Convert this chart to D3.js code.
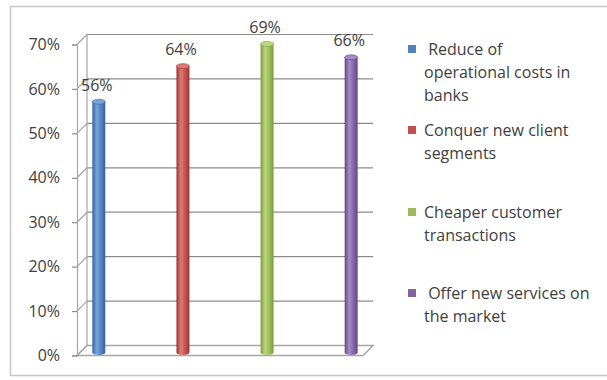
<!DOCTYPE html>
<html>
<head>
<meta charset="utf-8">
<script src="https://cdn.jsdelivr.net/npm/d3@7"></script>
<style>
  body { margin: 0; background: #fff; }
  text { font-family: "Open Sans", "Noto Sans", sans-serif; fill: #404040; }
</style>
</head>
<body>
<div id="chart"></div>
<script>
/* chart data */
var categories = ["Reduce of operational costs in banks", "Conquer new client segments",
                  "Cheaper customer transactions", "Offer new services on the market"];
var values = [0.56, 0.64, 0.69, 0.66];
var valueLabels = ["56%", "64%", "69%", "66%"];
var tickValues = [0, 0.1, 0.2, 0.3, 0.4, 0.5, 0.6, 0.7];
var legendLines = [[" Reduce of", "operational costs in", "banks"],
                   ["Conquer new client", "segments"],
                   ["Cheaper customer", "transactions"],
                   [" Offer new services on", "the market"]];
var colors = ["#4f81bd", "#c0504d", "#9bbb59", "#8064a2"];
var darks = ["#36649e", "#9c3633", "#7c9a3c", "#604887"];
var lights = ["#7aa5dc", "#e07a77", "#bcd880", "#a58bc6"];

var W = 607, H = 380;
var depth = 5; // half depth offset of the 3d box

var svg = d3.select('#chart').append('svg')
    .attr('width', W).attr('height', H);

// outer chart frame
svg.append('rect')
    .attr('x', 10.5).attr('y', 6.5)
    .attr('width', 620).attr('height', 369)
    .attr('fill', 'none')
    .attr('stroke', '#c8c8c8')
    .attr('stroke-width', 1.5);

// scales at the middle depth of the box
var y = d3.scaleLinear().domain([0, 0.7]).range([350.5, 39.5]);
var x = d3.scalePoint().domain(d3.range(categories.length))
    .range([82, 368]).padding(0.2);
var xl = 82, xr = 368;

var defs = svg.append('defs');
colors.forEach(function(c, i){
    var g = defs.append('linearGradient').attr('id', 'cyl' + i)
        .attr('x1', '0%').attr('x2', '100%').attr('y1', '0%').attr('y2', '0%');
    g.append('stop').attr('offset', '0%').attr('stop-color', darks[i]);
    g.append('stop').attr('offset', '35%').attr('stop-color', lights[i]);
    g.append('stop').attr('offset', '70%').attr('stop-color', c);
    g.append('stop').attr('offset', '100%').attr('stop-color', darks[i]);
});

// floor
svg.append('path')
    .attr('d', 'M' + (xl - depth) + ',' + (y(0) + depth) +
               'L' + (xr - depth) + ',' + (y(0) + depth) +
               'L' + (xr + depth) + ',' + (y(0) - depth) +
               'L' + (xl + depth) + ',' + (y(0) - depth) + 'Z')
    .attr('fill', '#fff')
    .attr('stroke', '#a6a6a6')
    .attr('stroke-width', 1.5);

// back wall grid lines
svg.selectAll('line.grid')
    .data(tickValues.filter(function(d){ return d > 0; }))
    .enter().append('line')
    .attr('class', 'grid')
    .attr('x1', xl + depth).attr('x2', xr + depth)
    .attr('y1', function(d){ return y(d) - depth; })
    .attr('y2', function(d){ return y(d) - depth; })
    .attr('stroke', '#8c8c8c')
    .attr('stroke-width', 1.2);

// back wall left edge
svg.append('line')
    .attr('x1', xl + depth).attr('x2', xl + depth)
    .attr('y1', y(0.7) - depth).attr('y2', y(0) - depth)
    .attr('stroke', '#a6a6a6').attr('stroke-width', 1.2);

// side wall diagonals at each tick
svg.selectAll('line.diag')
    .data(tickValues)
    .enter().append('line')
    .attr('class', 'diag')
    .attr('x1', xl - depth).attr('x2', xl + depth)
    .attr('y1', function(d){ return y(d) + depth; })
    .attr('y2', function(d){ return y(d) - depth; })
    .attr('stroke', '#a6a6a6').attr('stroke-width', 1.2);

// front value axis
var axis = d3.axisLeft(y.copy().range([y(0) + depth, y(0.7) + depth]))
    .tickValues(tickValues)
    .tickFormat(d3.format('.0%'))
    .tickSize(5).tickPadding(12);
var ax = svg.append('g')
    .attr('transform', 'translate(' + (xl - depth) + ',0)')
    .call(axis);
ax.select('.domain').attr('stroke', '#a6a6a6').attr('stroke-width', 1.2);
ax.selectAll('.tick line').attr('stroke', '#8c8c8c').attr('stroke-width', 1.2);
ax.selectAll('.tick text')
    .style('font-size', '16px')
    .attr('fill', '#404040');

// cylinders
var bw = 13, cap = 2.5;
var bars = svg.selectAll('g.bar')
    .data(values)
    .enter().append('g')
    .attr('class', 'bar');
bars.append('path')
    .attr('d', function(d, i){
        var cx = x(i), top = y(d), bot = y(0) + 2;
        return 'M' + (cx - bw / 2) + ',' + top +
               'L' + (cx - bw / 2) + ',' + bot +
               'A' + (bw / 2) + ',' + cap + ' 0 0 0 ' + (cx + bw / 2) + ',' + bot +
               'L' + (cx + bw / 2) + ',' + top + 'Z';
    })
    .attr('fill', function(d, i){ return 'url(#cyl' + i + ')'; });
bars.append('ellipse')
    .attr('cx', function(d, i){ return x(i); })
    .attr('cy', function(d){ return y(d); })
    .attr('rx', bw / 2).attr('ry', cap)
    .attr('fill', function(d, i){ return lights[i]; })
    .attr('stroke', function(d, i){ return darks[i]; })
    .attr('stroke-width', 0.6);

// value labels
svg.selectAll('text.val')
    .data(values)
    .enter().append('text')
    .attr('class', 'val')
    .attr('x', function(d, i){ return x(i) - 2; })
    .attr('y', function(d){ return y(d) - 11; })
    .attr('text-anchor', 'middle')
    .style('font-size', '16px')
    .text(function(d, i){ return valueLabels[i]; });

// legend
var legendTop = [49, 130, 212, 293];
var lg = svg.selectAll('g.legend')
    .data(legendLines)
    .enter().append('g')
    .attr('class', 'legend')
    .attr('transform', function(d, i){ return 'translate(408,' + legendTop[i] + ')'; });
lg.append('rect')
    .attr('x', 0).attr('y', -4)
    .attr('width', 8).attr('height', 8)
    .attr('fill', function(d, i){ return colors[i]; });
lg.each(function(lines){
    var t = d3.select(this).append('text')
        .attr('x', 16).attr('y', 6)
        .style('font-size', '16px')
        .attr('xml:space', 'preserve');
    lines.forEach(function(s, k){
        t.append('tspan')
            .attr('x', 16)
            .attr('dy', k === 0 ? 0 : 23)
            .text(s);
    });
});
</script>
</body>
</html>
